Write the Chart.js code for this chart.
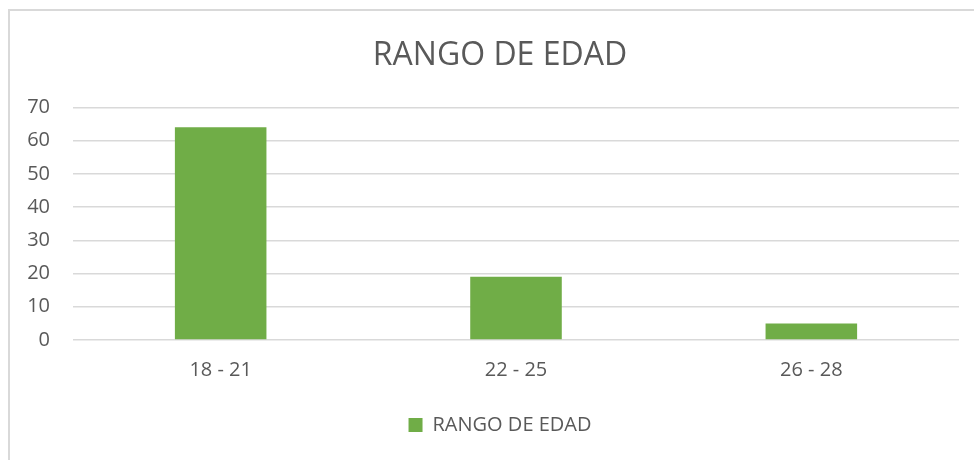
<!DOCTYPE html>
<html>
<head>
<meta charset="utf-8">
<script src="https://cdn.jsdelivr.net/npm/chart.js@4"></script>
<style>
    body { margin: 0; background: #fff; overflow: hidden; }
    #wrap { position: relative; width: 974px; height: 460px; }
    #frame {
        position: absolute; left: 8px; top: 9px; width: 1000px; height: 500px;
        border-top: 2px solid #d9d9d9; border-left: 2px solid #d9d9d9;
    }
    #chart { position: absolute; left: 0; top: 0; }
</style>
</head>
<body>
<div id="wrap">
    <div id="frame"></div>
    <canvas id="chart" width="974" height="460"></canvas>
</div>
<script>
const categories = ['18 - 21', '22 - 25', '26 - 28'];
const seriesName = 'RANGO DE EDAD';
const values = [64, 19, 5];
const yTicks = [0, 10, 20, 30, 40, 50, 60, 70];

const textColor = '#595959';
const gridColor = '#d9d9d9';
const barColor = '#70ad47';

// nudge title and legend a bit right, the way the original centres them
const shiftBlocks = {
    id: 'shiftBlocks',
    afterLayout(chart) {
        [chart.titleBlock, chart.legend].forEach(b => {
            if (!b) return;
            b.left += 7;
            b.right += 7;
        });
    }
};

const ctx = document.getElementById('chart').getContext('2d');
new Chart(ctx, {
    type: 'bar',
    data: {
        labels: categories,
        datasets: [{
            label: seriesName,
            data: values,
            backgroundColor: barColor,
            borderWidth: 0,
            barPercentage: 1,
            categoryPercentage: 0.31
        }]
    },
    options: {
        responsive: false,
        animation: false,
        layout: { padding: { left: 27, right: 15, top: 0, bottom: 15 } },
        plugins: {
            title: {
                display: true,
                text: 'RANGO DE EDAD',
                color: textColor,
                font: { family: 'Open Sans', size: 32, weight: 'normal' },
                padding: { top: 37, bottom: 32 }
            },
            legend: {
                position: 'bottom',
                labels: {
                    color: textColor,
                    font: { family: 'Open Sans', size: 20 },
                    boxWidth: 14,
                    boxHeight: 14,
                    padding: 20
                }
            },
            tooltip: { enabled: false }
        },
        scales: {
            x: {
                afterFit: (scale) => { scale.height += 3; },
                grid: { display: false },
                border: { display: false },
                ticks: {
                    color: textColor,
                    font: { family: 'Open Sans', size: 20 },
                    padding: 10
                }
            },
            y: {
                min: 0,
                max: 70,
                afterFit: (scale) => { scale.width = 46; },
                afterBuildTicks: (scale) => { scale.ticks = yTicks.map(v => ({ value: v })); },
                grid: { color: gridColor, lineWidth: 1.5, drawTicks: false },
                border: { display: false },
                ticks: {
                    color: textColor,
                    font: { family: 'Open Sans', size: 20 },
                    padding: 23
                }
            }
        }
    },
    plugins: [shiftBlocks]
});
</script>
</body>
</html>
